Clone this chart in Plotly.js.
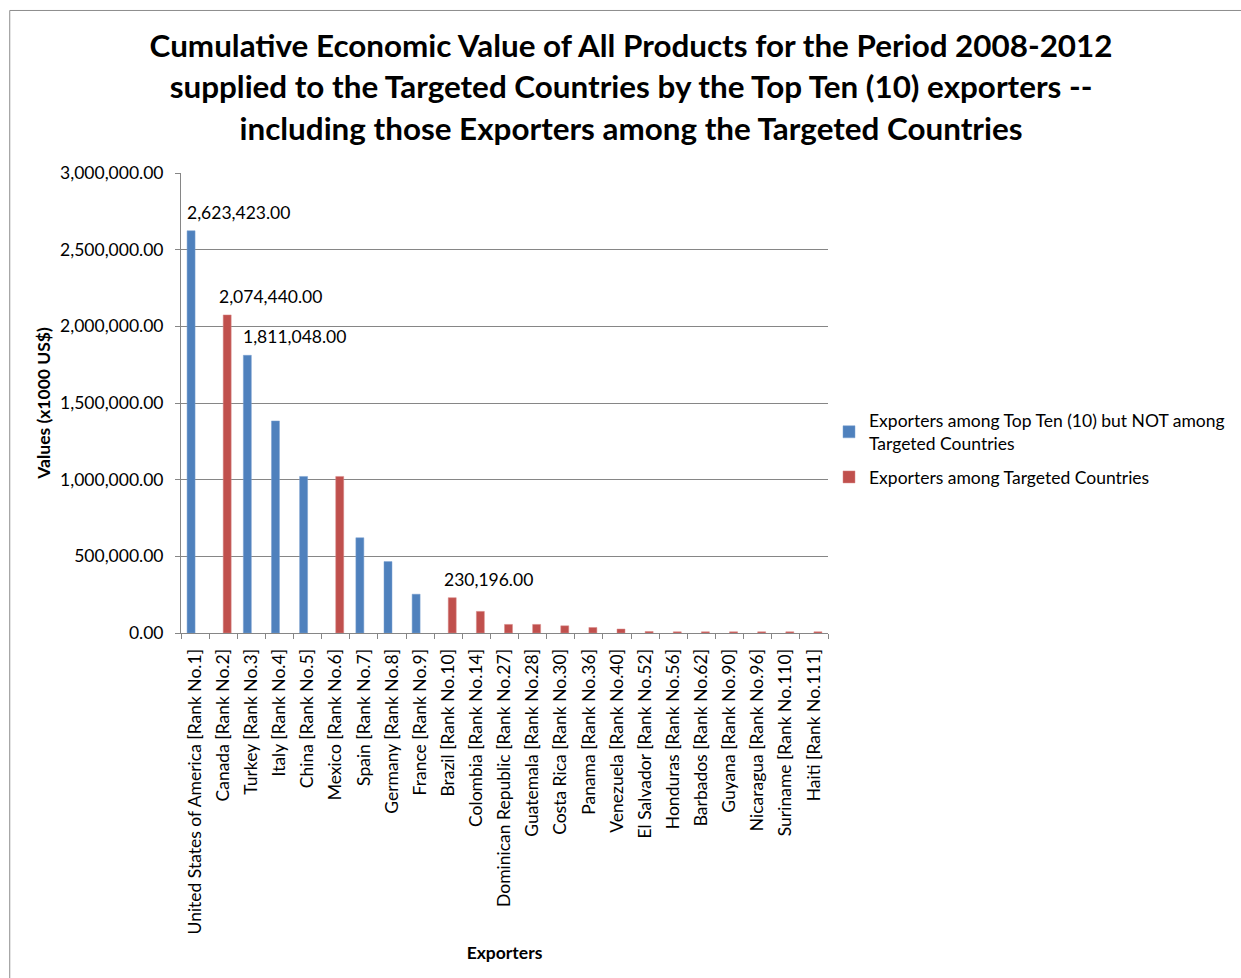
<!DOCTYPE html>
<html>
<head>
<meta charset="utf-8">
<script src="https://cdn.plot.ly/plotly-3.0.1.min.js"></script>
<style>
html, body { margin: 0; padding: 0; background: #ffffff; }
#chart { width: 1241px; height: 978px; }
</style>
</head>
<body>
<div id="chart"></div>
<script>
const categories = [
  "United States of America [Rank No.1]",
  "Canada [Rank No.2]",
  "Turkey [Rank No.3]",
  "Italy [Rank No.4]",
  "China [Rank No.5]",
  "Mexico [Rank No.6]",
  "Spain [Rank No.7]",
  "Germany [Rank No.8]",
  "France [Rank No.9]",
  "Brazil [Rank No.10]",
  "Colombia [Rank No.14]",
  "Dominican Republic [Rank No.27]",
  "Guatemala [Rank No.28]",
  "Costa Rica [Rank No.30]",
  "Panama [Rank No.36]",
  "Venezuela [Rank No.40]",
  "El Salvador [Rank No.52]",
  "Honduras [Rank No.56]",
  "Barbados [Rank No.62]",
  "Guyana [Rank No.90]",
  "Nicaragua [Rank No.96]",
  "Suriname [Rank No.110]",
  "Haiti [Rank No.111]"
];

const seriesNames = [
  "Exporters among Top Ten (10) but NOT among<br>Targeted Countries",
  "Exporters among Targeted Countries"
];

const notTargetedValues = [
  2623423, null, 1811048, 1383000, 1021000, null, 621000, 466000, 253000, null,
  null, null, null, null, null, null, null, null, null, null, null, null, null
];

const targetedValues = [
  null, 2074440, null, null, null, 1021000, null, null, null, 230196,
  141000, 56000, 56000, 47000, 36000, 26000, 10000, 8000, 8000, 8000, 8000, 8000, 8000
];

const labeledCategories = [
  "United States of America [Rank No.1]",
  "Canada [Rank No.2]",
  "Turkey [Rank No.3]",
  "Brazil [Rank No.10]"
];

const BLUE = "#4F81BD";
const RED = "#C0504D";
const GRID = "#868686";
const FONT = "Lato, 'Open Sans', sans-serif";

function fmt(v) {
  return v.toLocaleString("en-US", {minimumFractionDigits: 2, maximumFractionDigits: 2});
}

const traces = [
  {
    type: "bar",
    name: seriesNames[0],
    legendgroup: "g1",
    x: categories,
    y: notTargetedValues,
    marker: {color: BLUE, line: {color: "#7aa0d0", width: 0.5}},
    hoverinfo: "x+y"
  },
  {
    type: "bar",
    name: seriesNames[1],
    legendgroup: "g2",
    x: categories,
    y: targetedValues,
    marker: {color: RED, line: {color: "#d98a88", width: 0.5}},
    hoverinfo: "x+y"
  }
];

const annotations = [];
labeledCategories.forEach(function (cat) {
  const i = categories.indexOf(cat);
  const isBlue = notTargetedValues[i] !== null;
  const v = isBlue ? notTargetedValues[i] : targetedValues[i];
  annotations.push({
    x: cat,
    y: v,
    xref: "x",
    yref: "y",
    text: fmt(v),
    showarrow: false,
    xanchor: "left",
    yanchor: "bottom",
    xshift: isBlue ? -10 : -6,
    yshift: 6,
    font: {family: FONT, size: 17.5, color: "#000000"}
  });
});

const layout = {
  width: 1241,
  height: 978,
  paper_bgcolor: "#ffffff",
  plot_bgcolor: "#ffffff",
  margin: {l: 181, r: 412, t: 173, b: 345, pad: 0},
  font: {family: FONT, size: 17.5, color: "#000000"},
  title: {
    text: "<span style='font-size:31.4px'>Cumulative Economic Value of All Products for the Period 2008-2012</span><br>" +
          "<span style='font-size:31.4px'>supplied to the Targeted Countries by the Top Ten (10) exporters --</span><br>" +
          "<span style='font-size:31.4px'>including those Exporters among the Targeted Countries</span>",
    font: {family: FONT, size: 32, color: "#000000", weight: "bold"},
    x: 0.5085,
    xanchor: "center",
    xref: "container",
    y: 0.942,
    yanchor: "top",
    yref: "container"
  },
  barmode: "group",
  bargap: 0.432,
  bargroupgap: 0,
  showlegend: true,
  legend: {
    x: 1.0,
    xanchor: "left",
    y: 0.501,
    yanchor: "top",
    font: {family: FONT, size: 17.5, color: "#000000"},
    tracegroupgap: 8,
    traceorder: "grouped",
    bgcolor: "rgba(0,0,0,0)",
    itemclick: false
  },
  xaxis: {
    type: "category",
    tickangle: -90,
    ticks: "outside",
    tickson: "boundaries",
    ticklen: 5,
    tickcolor: GRID,
    showline: true,
    linecolor: GRID,
    linewidth: 1,
    showgrid: false,
    tickfont: {family: FONT, size: 17.5, color: "#000000"},
    ticklabelstandoff: 8,
    title: {
      text: "Exporters",
      font: {family: FONT, size: 17.5, color: "#000000", weight: "bold"},
      standoff: 13
    },
    automargin: false
  },
  yaxis: {
    range: [0, 3000000],
    dtick: 500000,
    tick0: 0,
    tickformat: ",.2f",
    ticks: "outside",
    ticklen: 5,
    tickcolor: GRID,
    showline: true,
    linecolor: GRID,
    linewidth: 1,
    showgrid: true,
    gridcolor: GRID,
    gridwidth: 1,
    zeroline: false,
    tickfont: {family: FONT, size: 17.5, color: "#000000"},
    ticklabelstandoff: 8,
    title: {
      text: "Values (x1000 US$)",
      font: {family: FONT, size: 17.5, color: "#000000", weight: "bold"},
      standoff: 4
    },
    automargin: false
  },
  annotations: annotations,
  shapes: [
    {
      type: "rect",
      xref: "paper",
      yref: "paper",
      x0: -0.2647,
      x1: 3,
      y0: -3,
      y1: 1.3533,
      line: {color: "#8c8c8c", width: 1},
      fillcolor: "rgba(0,0,0,0)",
      layer: "below"
    }
  ]
};

Plotly.newPlot("chart", traces, layout, {displayModeBar: false, staticPlot: true});
</script>
</body>
</html>
